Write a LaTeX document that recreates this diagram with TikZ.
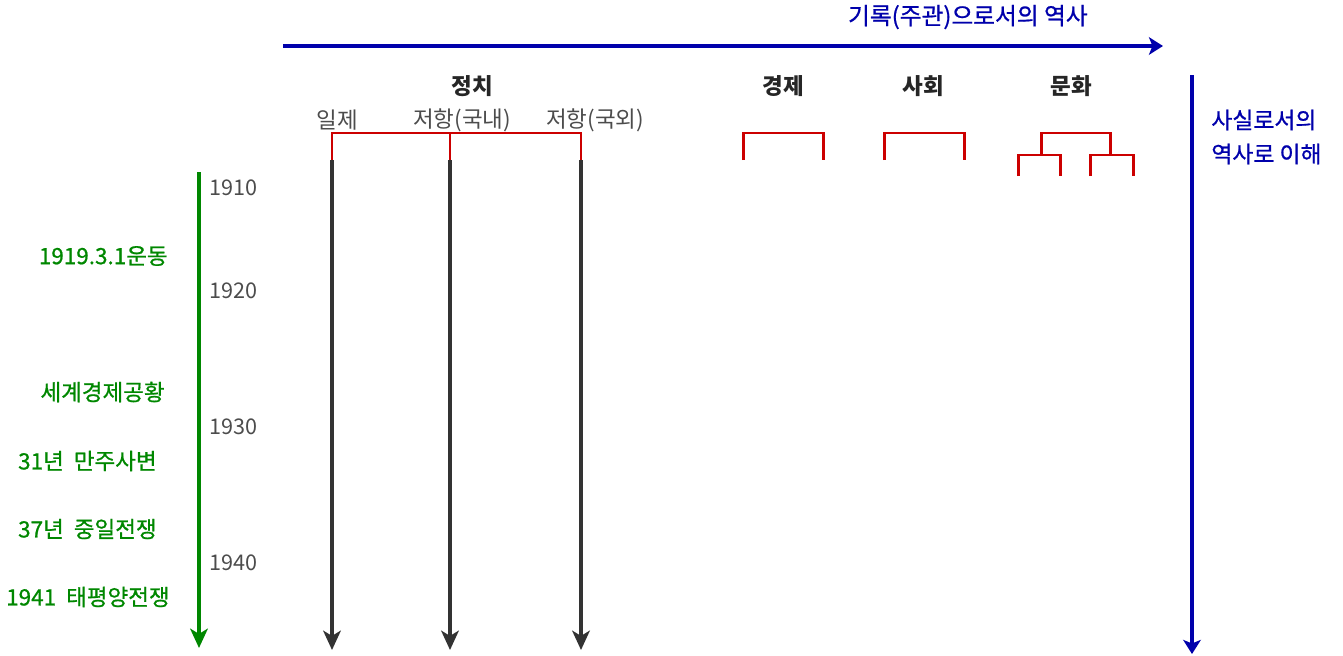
\documentclass[tikz,border=0pt]{standalone}
\usepackage{fontspec}
\setmainfont{Noto Sans CJK KR}
\newfontfamily\eventfont[FakeBold=0.8]{Noto Sans CJK KR}
\usetikzlibrary{arrows.meta}
\usepackage{tkz-euclide}
\definecolor{HistClr}{rgb}{0,0,0.67}
\definecolor{EventClr}{rgb}{0,0.53,0}
\definecolor{BranchClr}{rgb}{0.8,0,0}
\definecolor{YearClr}{rgb}{0.3,0.3,0.3}
\definecolor{LineClr}{rgb}{0.2,0.2,0.2}

\begin{document}
\begin{tikzpicture}[x=0.02cm,y=-0.02cm,
  head/.style={font=\fontsize{12.8}{15}\selectfont\bfseries,text=black!85,inner sep=0pt},
  sub/.style={font=\fontsize{12.8}{15}\selectfont,text=YearClr,inner sep=0pt},
  year/.style={font=\fontsize{12.3}{15}\selectfont,text=YearClr,inner sep=0pt,anchor=west},
  event/.style={font=\fontsize{12.8}{15}\selectfont\eventfont,text=EventClr,inner sep=0pt,anchor=east},
  fact/.style={font=\fontsize{13}{15}\selectfont\eventfont,text=HistClr,inner sep=0pt,anchor=west},
  branch/.style={line width=1.7pt,color=BranchClr},
  timeline/.style={line width=2pt,color=LineClr,-{Stealth[length=11pt,width=10pt,inset=3pt]}}]
\useasboundingbox (0,0) rectangle (1343,656);

\tkzDefPoints{283/46/HS,1163/46/HE,1192/75/VS,1192/654/VE,199/172/GS,199/648/GE}
\tkzDefPoints{332/133/JT,450/133/DT,581/133/AT,332/160/J,450/160/D,581/160/A}
\tkzDefPoints{332/650/JE,450/650/DE,581/650/AE}
% \tkzDefPoints{743/133/E1,823/133/E2,884/133/S1,964/133/S2}

% history axes
\draw[line width=2.4pt,color=HistClr,-{Stealth[length=8pt,width=10pt,inset=2pt]}] (HS) -- (HE);
\draw[line width=2.4pt,color=HistClr,-{Stealth[length=8pt,width=10pt,inset=2pt]}] (VS) -- (VE);
\draw[line width=2pt,color=EventClr,-{Stealth[length=11pt,width=10pt,inset=3pt]}] (GS) -- (GE);

\node[font=\fontsize{13.5}{15}\selectfont\eventfont,text=HistClr,inner sep=0pt,anchor=east] (record) at (1088,17) {기록(주관)으로서의 역사};
\node[fact] (fact1) at (1211,120) {사실로서의};
\node[fact] (fact2) at (1211,154) {역사로 이해};

% fields
\node[head] (politics) at (472,86) {정치};
\node[head] (economy) at (783,86) {경제};
\node[head] (society) at (923,86) {사회};
\node[head] (culture) at (1071,86) {문화};

\node[sub] (japan) at (337,120) {일제};
\node[sub] (domestic) at (462,120) {저항(국내)};
\node[sub] (abroad) at (595,120) {저항(국외)};

\draw[branch] (J) -- (JT) -- (AT) -- (A);
\draw[branch] (DT) -- (D);
\draw[branch] (743,160) -- (743,133) -- (823,133) -- (823,160);
\draw[branch] (884,160) -- (884,133) -- (964,133) -- (964,160);
\draw[branch] (1041,155) -- (1041,133) -- (1110,133) -- (1110,155);
\draw[branch] (1018,176) -- (1018,155) -- (1060,155) -- (1060,176);
\draw[branch] (1090,176) -- (1090,155) -- (1133,155) -- (1133,176);

\draw[timeline] (J) -- (JE);
\draw[timeline] (D) -- (DE);
\draw[timeline] (A) -- (AE);

% years and events
\node[year] (y1910) at (209,188) {1910};
\node[year] (y1920) at (209,291) {1920};
\node[year] (y1930) at (209,427) {1930};
\node[year] (y1940) at (209,563) {1940};

\node[event] (march) at (168,256) {1919.3.1운동};
\node[event] (crisis) at (165,392) {세계경제공황};
\node[event] (manchuria) at (157,461) {31년\ \ 만주사변};
\node[event] (china) at (157,529) {37년\ \ 중일전쟁};
\node[event] (pacific) at (170,597) {1941\ \ 태평양전쟁};
\end{tikzpicture}
\end{document}
